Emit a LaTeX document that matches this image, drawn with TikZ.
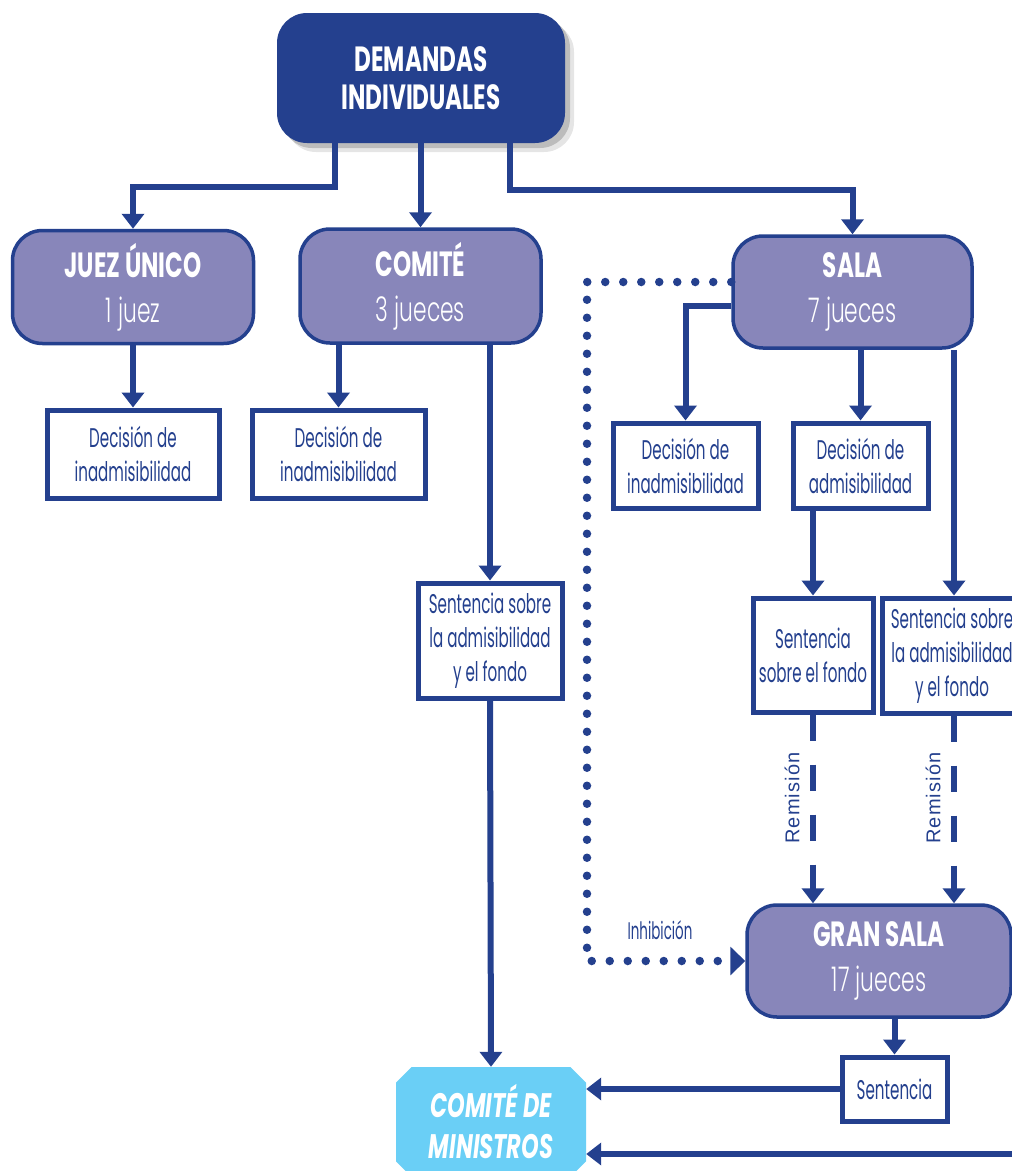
\documentclass[tikz,border=0pt]{standalone}
\usepackage{fontspec}
\setmainfont[FakeStretch=0.66]{Poppins}
\newfontfamily\lightf[FakeStretch=0.64]{Poppins Light}
\newfontfamily\bodyf[FakeStretch=0.56]{Poppins}
\newfontfamily\remfont[LetterSpace=6]{Liberation Sans}
\usetikzlibrary{arrows.meta,shapes.misc,shadows}
\definecolor{db}{HTML}{24408E}
\definecolor{pu}{HTML}{8886BA}
\definecolor{cy}{HTML}{6ACFF6}
\tikzset{
 topbox/.style={fill=db, rounded corners=30pt, text=white, font=\bfseries\fontsize{35}{38}\selectfont, align=center, inner sep=0pt},
 pbox/.style={fill=pu, draw=db, line width=3.5pt, rounded corners=30pt, text=white, align=center, inner sep=0pt, font=\fontsize{35}{45}\selectfont},
 wbox/.style={fill=white, draw=db, line width=5pt, text=db, align=center, inner sep=0pt, font=\bodyf\fontsize{27}{34}\selectfont},
 conn/.style={draw=db, line width=6pt, -{Triangle[length=15pt,width=22pt]}},
 dashc/.style={conn, dash pattern=on 26pt off 24pt},
 dotc/.style={draw=db, line width=8.5pt, line cap=round, dash pattern=on 0pt off 18pt, -{Triangle[length=15pt,width=28pt]}},
 lbl/.style={text=db, inner sep=0pt},
}
\newcommand{\subt}[1]{{\lightf\fontsize{34}{45}\selectfont #1}}
\begin{document}
\begin{tikzpicture}[x=1pt,y=-1pt]
\useasboundingbox (0,0) rectangle (1012,1171);
\clip (0,0) rectangle (1012,1171);
% top
\node[topbox, minimum width=288pt, minimum height=130pt,
  general shadow={shadow xshift=9pt, shadow yshift=-9pt, opacity=0.10, fill=black},
  general shadow={shadow xshift=5pt, shadow yshift=-5pt, opacity=0.18, fill=black}] (dem) at (421,78) {DEMANDAS\\INDIVIDUALES};
% purple boxes
\node[pbox, minimum width=241pt, minimum height=113pt] (juez) at (133,287) {{\bfseries JUEZ ÚNICO}\\\subt{1 juez}};
\node[pbox, minimum width=241pt, minimum height=114pt] (comite) at (420.5,286) {{\bfseries COMITÉ}\\\subt{3 jueces}};
\node[pbox, minimum width=239pt, minimum height=112pt] (sala) at (852.5,292) {{\bfseries SALA}\\\subt{7 jueces}};
\node[pbox, minimum width=264pt, minimum height=112pt] (gran) at (879,961) {{\bfseries GRAN SALA}\\\subt{17 jueces}};
% white boxes
\node[wbox, minimum width=172pt, minimum height=88pt] (dec1) at (133,454) {Decisión de\\inadmisibilidad};
\node[wbox, minimum width=173pt, minimum height=88pt] (dec2) at (338.5,454) {Decisión de\\inadmisibilidad};
\node[wbox, minimum width=145pt, minimum height=85pt] (dec3) at (685.5,465.5) {Decisión de\\inadmisibilidad};
\node[wbox, minimum width=135pt, minimum height=85pt] (dec4) at (860.5,465.5) {Decisión de\\admisibilidad};
\node[wbox, minimum width=144pt, minimum height=115pt] (sent1) at (490,640.5) {Sentencia sobre\\la admisibilidad\\y el fondo};
\node[wbox, minimum width=120pt, minimum height=114pt] (sent2) at (813,655) {Sentencia\\sobre el fondo};
\node[wbox, minimum width=140pt, minimum height=115pt] (sent3) at (952,655.5) {Sentencia sobre\\la admisibilidad\\y el fondo};
\node[wbox, minimum width=105pt, minimum height=64pt] (sent4) at (894.5,1089) {Sentencia};
% comite de ministros
\node[chamfered rectangle, chamfered rectangle xsep=12pt, fill=cy, inner sep=0pt,
  minimum width=190pt, minimum height=110pt, text=white, align=center,
  font=\bfseries\itshape\fontsize{34}{41}\selectfont] (cm) at (491,1122) {COMITÉ DE\\MINISTROS};
% labels
\node[lbl, font=\bodyf\fontsize{24}{24}\selectfont] (inh) at (660,930) {Inhibición};
\node[lbl, rotate=90, font=\remfont\fontsize{20}{20}\selectfont] (rem1) at (792,798) {Remisión};
\node[lbl, rotate=90, font=\remfont\fontsize{20}{20}\selectfont] (rem2) at (933,798) {Remisión};
% connectors
\draw[conn] ([xshift=-86pt]dem.south) -- ++(0,44) -| (juez.north);
\draw[conn] (dem.south -| comite.north) -- (comite.north);
\draw[conn] ([xshift=89pt]dem.south) -- ++(0,47) -| (sala.north);
\draw[conn] (juez.south -| dec1.north) -- (dec1.north);
\draw[conn] (comite.south -| dec2.north) -- (dec2.north);
\draw[conn] (comite.south -| sent1.north) -- (sent1.north);
\draw[conn] (sent1.south) -- (cm.north);
\draw[conn] ([yshift=-14pt]sala.west) -| (dec3.north);
\draw[conn] (sala.south -| dec4.north) -- (dec4.north);
\draw[conn] ([xshift=2pt]sala.south -| sent3.north) -- ([xshift=2pt]sent3.north);
\draw[conn] (dec4.south -| sent2.north) -- (sent2.north);
\draw[dashc] (sent2.south) -- (sent2.south |- gran.north);
\draw[dashc] ([xshift=2pt]sent3.south) -- ([xshift=2pt]sent3.south |- gran.north);
\coordinate (dc) at (587,282);
\draw[dotc] ([yshift=10pt]sala.west) -| (dc |- gran.west) -- (gran.west);
\draw[conn] (gran.south -| sent4.north) -- (sent4.north);
\draw[conn] (sent4.west) -- (sent4.west -| cm.east);
\coordinate (redge) at (1030,1154);
\draw[conn] (redge) -- (redge -| cm.east);
\end{tikzpicture}
\end{document}
